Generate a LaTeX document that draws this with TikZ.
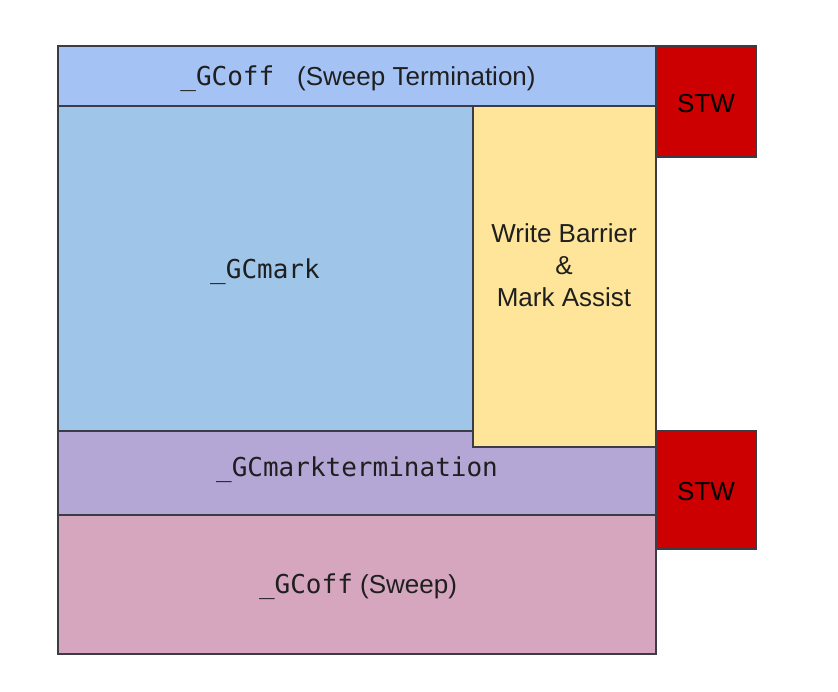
\documentclass[tikz,border=0pt]{standalone}
\usepackage{fontspec}
\setmainfont{Liberation Sans}
\setmonofont{DejaVu Sans Mono}
\definecolor{bandblue}{HTML}{A4C2F4}
\definecolor{markblue}{HTML}{9FC5E8}
\definecolor{wbyellow}{HTML}{FFE599}
\definecolor{termpurple}{HTML}{B4A7D6}
\definecolor{sweeppink}{HTML}{D5A6BD}
\definecolor{stwred}{HTML}{CC0000}
\definecolor{edge}{HTML}{3C3C46}
\tikzset{
  region/.style={draw=edge, line width=1.4pt},
  lbl/.style={font=\fontsize{26}{32}\selectfont, text=black!88, align=center, inner sep=0pt}
}
\begin{document}
\begin{tikzpicture}[x=1pt,y=-1pt]
\useasboundingbox[fill=white] (0,0) rectangle (838,692);
% regions
\draw[region, fill=markblue]   (58,106) rectangle (656,431);
\draw[region, fill=termpurple] (58,431) rectangle (656,515);
\draw[region, fill=sweeppink]  (58,515) rectangle (656,654);
\draw[region, fill=wbyellow]   (473,106) rectangle (656,447);
\draw[region, fill=bandblue]   (58,46) rectangle (656,106);
\draw[region, fill=stwred]     (656,46) rectangle (756,157);
\draw[region, fill=stwred]     (656,431) rectangle (756,549);
% labels
\node[lbl] (top) at (358,79) {\texttt{\_GCoff }\ (Sweep Termination)};
\node[lbl] (mark) at (265,272) {\texttt{\_GCmark}};
\node[lbl] (wb) at (564,265) {Write Barrier\\\&\\Mark Assist};
\node[lbl] (term) at (357,470) {\texttt{\_GCmarktermination}};
\node[lbl] (sweep) at (358,587) {\texttt{\_GCoff} (Sweep)};
\node[lbl, text=black] (stw1) at (706,104) {STW};
\node[lbl, text=black] (stw2) at (706,492) {STW};
\end{tikzpicture}
\end{document}
